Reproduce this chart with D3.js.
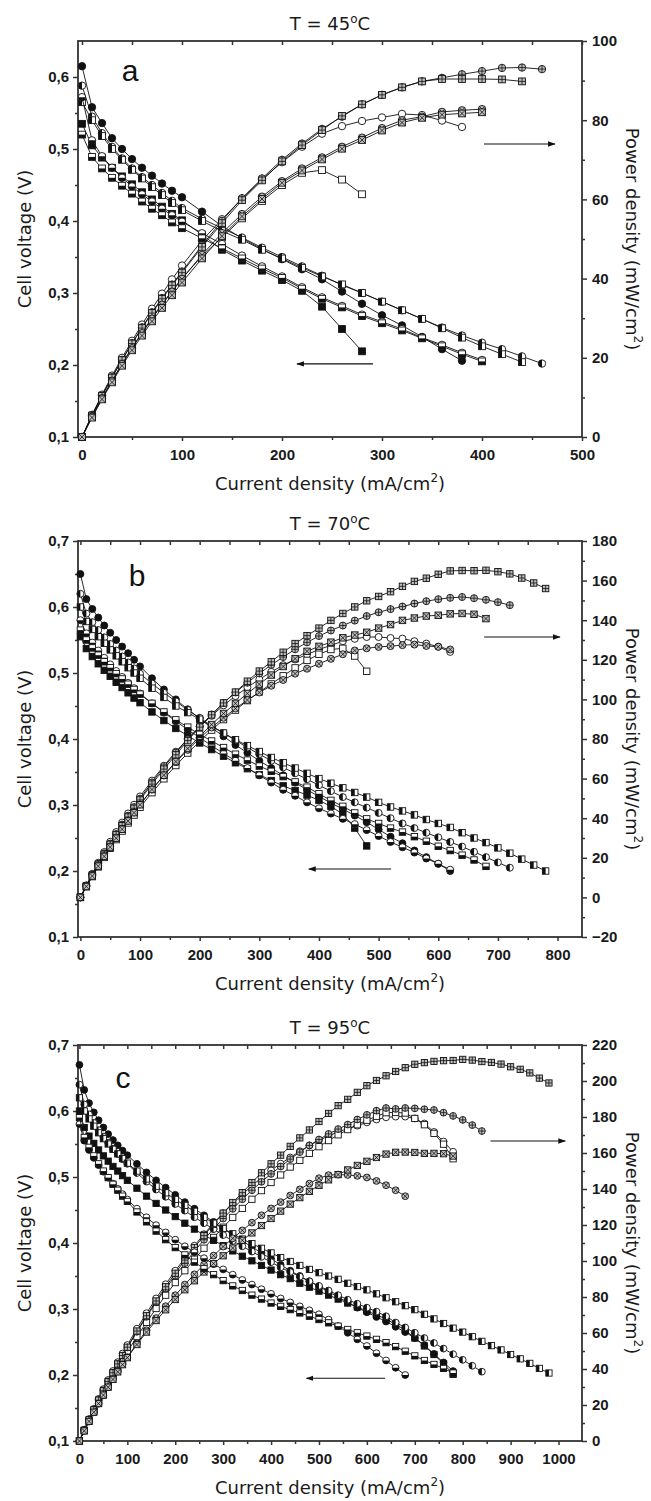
<!DOCTYPE html>
<html>
<head>
<meta charset="utf-8">
<script src="https://cdn.jsdelivr.net/npm/d3@7/dist/d3.min.js"></script>
<style>
  body { margin: 0; background: #fff; }
  svg { display: block; }
  .tick text { font-family: "Liberation Sans", Arial, sans-serif; font-weight: bold; font-size: 15px; fill: #1a1a1a; }
  .tick line { stroke: #333; stroke-width: 1.5; }
  .lab { font-family: "DejaVu Sans", Verdana, sans-serif; font-size: 18px; fill: #1a1a1a; }
  .letter { font-family: "Liberation Sans", Arial, sans-serif; font-size: 30px; fill: #111; }
</style>
</head>
<body>
<svg id="chart" width="651" height="1501"></svg>
<script>
// ---- current density grids (mA/cm2) ----
var currentA = [0,10,20,30,40,50,60,70,80,90,100,120,140,160,180,200,220,240,260,280,300,320,340,360,380,400,420,440,460];
var currentB = [0,10,20,30,40,50,60,70,80,90,100,120,140,160,180,200,220,240,260,280,300,320,340,360,380,400,420,440,460,480,500,520,540,560,580,600,620,640,660,680,700,720,740,760,780];
var currentC = [0,10,20,30,40,50,60,70,80,90,100,120,140,160,180,200,220,240,260,280,300,320,340,360,380,400,420,440,460,480,500,520,540,560,580,600,620,640,660,680,700,720,740,760,780,800,820,840,860,880,900,920,940,960,980];

// ---- T = 45 C ----
var voltA1 = [0.615,0.558,0.536,0.515,0.500,0.486,0.474,0.463,0.452,0.442,0.433,0.413,0.393,0.376,0.361,0.347,0.333,0.319,0.302,0.285,0.269,0.255,0.239,0.222,0.206];
var powerA1 = [0,5.6,10.7,15.5,20.0,24.3,28.4,32.4,36.2,39.8,43.3,49.6,55.0,60.2,65.0,69.4,73.3,76.6,78.5,79.8,80.7,81.6,81.3,79.9,78.3];
var voltA2 = [0.535,0.505,0.488,0.474,0.462,0.451,0.44,0.43,0.42,0.41,0.401,0.381,0.36,0.345,0.331,0.318,0.303,0.281,0.25,0.219];
var powerA2 = [0,5.1,9.8,14.2,18.5,22.6,26.4,30.1,33.6,36.9,40.1,45.7,50.4,55.2,59.6,63.6,66.7,67.4,65.0,61.3];
var voltA3 = [0.588,0.545,0.522,0.503,0.487,0.473,0.461,0.45,0.439,0.428,0.418,0.403,0.39,0.377,0.363,0.35,0.337,0.324,0.311,0.3,0.288,0.276,0.264,0.252,0.241,0.231,0.222,0.212,0.202];
var powerA3 = [0,5.5,10.4,15.1,19.5,23.7,27.7,31.5,35.1,38.5,41.8,48.4,54.6,60.3,65.3,70.0,74.1,77.8,80.9,84.0,86.4,88.3,89.8,90.7,91.6,92.4,93.2,93.3,92.9];
var voltA4 = [0.565,0.54,0.518,0.5,0.485,0.471,0.459,0.447,0.436,0.425,0.415,0.4,0.386,0.374,0.36,0.348,0.335,0.323,0.312,0.3,0.288,0.276,0.264,0.251,0.238,0.226,0.215,0.204];
var powerA4 = [0,5.4,10.4,15.0,19.4,23.6,27.5,31.3,34.9,38.3,41.5,48.0,54.0,59.8,64.8,69.6,73.7,77.5,81.1,84.0,86.4,88.3,89.8,90.4,90.4,90.4,90.3,89.8];
var voltA5 = [0.572,0.512,0.49,0.474,0.46,0.448,0.437,0.427,0.417,0.408,0.399,0.383,0.368,0.352,0.337,0.323,0.308,0.294,0.282,0.27,0.26,0.25,0.238,0.228,0.217,0.207];
var powerA5 = [0,5.1,9.8,14.2,18.4,22.4,26.2,29.9,33.4,36.7,39.9,46.0,51.5,56.3,60.7,64.6,67.8,70.6,73.3,75.6,78.0,80.0,80.9,82.1,82.5,82.8];
var voltA6 = [0.52,0.489,0.473,0.46,0.449,0.438,0.427,0.417,0.408,0.398,0.39,0.376,0.362,0.348,0.334,0.321,0.306,0.292,0.28,0.268,0.258,0.248,0.237,0.226,0.215,0.205];
var powerA6 = [0,4.9,9.5,13.8,18.0,21.9,25.6,29.2,32.6,35.8,39.0,45.1,50.7,55.7,60.1,64.2,67.3,70.1,72.8,75.0,77.4,79.4,80.6,81.4,81.7,82.0];

// ---- T = 70 C ----
var voltB1 = [0.65,0.612,0.597,0.584,0.572,0.561,0.55,0.54,0.53,0.52,0.51,0.492,0.475,0.46,0.445,0.431,0.417,0.404,0.391,0.379,0.367,0.356,0.345,0.334,0.323,0.313,0.303,0.294,0.284,0.274,0.263,0.252,0.242,0.231,0.221,0.211,0.2];
var powerB1 = [0,6.1,11.9,17.5,22.9,28.1,33.0,37.8,42.4,46.8,51.0,59.0,66.5,73.6,80.1,86.2,91.7,97.0,101.7,106.1,110.1,113.9,117.3,120.2,122.7,125.2,127.3,129.4,130.6,131.5,131.5,131.0,130.7,129.4,128.2,126.6,124.0];
var voltB2 = [0.555,0.537,0.525,0.514,0.504,0.495,0.486,0.478,0.47,0.462,0.455,0.441,0.428,0.416,0.405,0.394,0.384,0.374,0.364,0.355,0.346,0.337,0.329,0.322,0.315,0.307,0.298,0.286,0.265,0.238];
var powerB2 = [0,5.4,10.5,15.4,20.2,24.8,29.2,33.5,37.6,41.6,45.5,52.9,59.9,66.6,72.9,78.8,84.5,89.8,94.6,99.4,103.8,107.8,111.9,115.9,119.7,122.8,125.2,125.8,121.9,114.2];
var voltB3 = [0.62,0.59,0.577,0.565,0.554,0.544,0.534,0.525,0.516,0.507,0.499,0.484,0.47,0.457,0.444,0.432,0.42,0.409,0.398,0.387,0.377,0.367,0.357,0.348,0.339,0.33,0.321,0.312,0.304,0.296,0.288,0.28,0.272,0.265,0.258,0.251,0.244,0.237,0.229,0.221,0.213,0.205];
var powerB3 = [0,5.9,11.5,17.0,22.2,27.2,32.0,36.8,41.3,45.6,49.9,58.1,65.8,73.1,79.9,86.4,92.4,98.2,103.5,108.4,113.1,117.4,121.4,125.3,128.8,132.0,134.8,137.3,139.8,142.1,144.0,145.6,146.9,148.4,149.6,150.6,151.3,151.7,151.1,150.3,149.1,147.6];
var voltB4 = [0.6,0.578,0.566,0.555,0.545,0.535,0.526,0.517,0.508,0.5,0.492,0.477,0.463,0.45,0.44,0.43,0.419,0.409,0.399,0.39,0.381,0.372,0.364,0.356,0.348,0.34,0.333,0.326,0.319,0.312,0.304,0.297,0.291,0.285,0.278,0.272,0.266,0.258,0.25,0.243,0.235,0.227,0.218,0.209,0.2];
var powerB4 = [0,5.8,11.3,16.7,21.8,26.8,31.6,36.2,40.6,45.0,49.2,57.2,64.8,72.0,79.2,86.0,92.2,98.2,103.7,109.2,114.3,119.0,123.8,128.2,132.2,136.0,139.9,143.4,146.7,149.8,152.0,154.4,157.1,159.6,161.2,163.2,164.9,165.1,165.0,165.2,164.5,163.4,161.3,158.8,156.0];
var voltB5 = [0.58,0.56,0.546,0.534,0.523,0.513,0.503,0.494,0.485,0.477,0.469,0.454,0.44,0.427,0.414,0.402,0.39,0.378,0.367,0.356,0.345,0.334,0.323,0.314,0.304,0.295,0.287,0.279,0.271,0.262,0.253,0.244,0.236,0.228,0.219,0.211,0.202];
var powerB5 = [0,5.6,10.9,16.0,20.9,25.7,30.2,34.6,38.8,42.9,46.9,54.5,61.6,68.3,74.5,80.4,85.8,90.7,95.4,99.7,103.5,106.9,109.8,113.0,115.5,118.0,120.5,122.8,124.7,125.8,126.5,126.9,127.4,127.7,127.0,126.6,125.2];
var voltB6 = [0.565,0.55,0.538,0.527,0.517,0.508,0.499,0.491,0.483,0.475,0.468,0.454,0.441,0.429,0.418,0.407,0.397,0.387,0.377,0.368,0.359,0.351,0.343,0.335,0.327,0.317,0.307,0.298,0.288,0.279,0.272,0.265,0.259,0.252,0.245,0.2375,0.231,0.224,0.2167,0.207];
var powerB6 = [0,5.5,10.8,15.8,20.7,25.4,29.9,34.4,38.6,42.8,46.8,54.5,61.7,68.6,75.2,81.4,87.3,92.9,98.0,103.0,107.7,112.3,116.6,120.6,124.3,126.8,128.9,131.1,132.5,133.9,136.0,137.8,139.9,141.1,142.1,142.5,143.2,143.4,143.0,140.8];

// ---- T = 95 C ----
var voltC1 = [0.67,0.632,0.612,0.598,0.586,0.575,0.565,0.556,0.548,0.54,0.533,0.52,0.507,0.495,0.484,0.473,0.462,0.452,0.442,0.432,0.422,0.412,0.403,0.394,0.385,0.376,0.367,0.358,0.35,0.342,0.334,0.326,0.318,0.31,0.302,0.295,0.288,0.281,0.273,0.265,0.256,0.245,0.232,0.219,0.206];
var powerC1 = [0,6.3,12.2,17.9,23.4,28.8,33.9,38.9,43.8,48.6,53.3,62.4,71.0,79.2,87.1,94.6,101.6,108.5,114.9,121.0,126.6,131.8,137.0,141.8,146.3,150.4,154.1,157.5,161.0,164.2,167.0,169.5,171.7,173.6,175.2,177.0,178.6,179.8,180.2,180.2,179.2,176.4,171.7,166.4,160.7];
var voltC2 = [0.6,0.575,0.562,0.551,0.541,0.532,0.524,0.516,0.509,0.502,0.495,0.483,0.471,0.46,0.45,0.44,0.43,0.421,0.412,0.404,0.396,0.388,0.38,0.373,0.366,0.359,0.352,0.346,0.339,0.333,0.327,0.321,0.315,0.309,0.303,0.297,0.291,0.285,0.2765,0.268,0.256,0.244,0.231,0.217,0.201];
var powerC2 = [0,5.8,11.2,16.5,21.6,26.6,31.4,36.1,40.7,45.2,49.5,58.0,65.9,73.6,81.0,88.0,94.6,101.0,107.1,113.1,118.8,124.2,129.2,134.3,139.1,143.6,147.8,152.2,155.9,159.8,163.5,166.9,170.1,173.0,175.7,178.2,180.4,182.4,182.5,182.2,179.2,175.7,170.9,164.9,156.8];
var voltC3 = [0.64,0.61,0.595,0.582,0.571,0.561,0.552,0.543,0.535,0.527,0.52,0.506,0.493,0.481,0.47,0.459,0.449,0.439,0.43,0.421,0.412,0.403,0.395,0.387,0.379,0.371,0.363,0.356,0.349,0.342,0.335,0.328,0.321,0.314,0.308,0.302,0.296,0.289,0.2795,0.272,0.264,0.256,0.2485,0.24,0.2315,0.223,0.214,0.205];
var powerC3 = [0,6.1,11.9,17.5,22.8,28.1,33.1,38.0,42.8,47.4,52.0,60.7,69.0,77.0,84.6,91.8,98.8,105.4,111.8,117.9,123.6,129.0,134.3,139.3,144.0,148.4,152.5,156.6,160.5,164.2,167.5,170.6,173.3,175.8,178.6,181.2,183.5,185.0,184.5,185.0,184.8,184.3,183.9,182.4,180.6,178.4,175.5,172.2];
var voltC4 = [0.62,0.6,0.588,0.577,0.567,0.558,0.55,0.542,0.535,0.528,0.521,0.509,0.497,0.486,0.476,0.466,0.457,0.448,0.439,0.43,0.422,0.414,0.406,0.399,0.392,0.385,0.378,0.372,0.366,0.36,0.355,0.35,0.345,0.339,0.334,0.329,0.323,0.317,0.311,0.305,0.299,0.292,0.285,0.278,0.271,0.265,0.258,0.251,0.2445,0.238,0.231,0.2245,0.2176,0.21,0.203];
var powerC4 = [0,6.0,11.8,17.3,22.7,27.9,33.0,37.9,42.8,47.5,52.1,61.1,69.6,77.8,85.7,93.2,100.5,107.5,114.1,120.4,126.6,132.5,138.0,143.6,149.0,154.0,158.8,163.7,168.4,172.8,177.5,182.0,186.3,189.8,193.7,197.4,200.3,202.9,205.3,207.4,209.3,210.2,210.9,211.3,211.4,212.0,211.6,210.8,210.3,209.4,207.9,206.5,204.5,201.6,198.9];
var voltC5 = [0.58,0.555,0.541,0.529,0.518,0.508,0.499,0.49,0.482,0.474,0.466,0.452,0.439,0.427,0.416,0.405,0.395,0.386,0.377,0.368,0.36,0.352,0.344,0.337,0.33,0.323,0.316,0.31,0.304,0.298,0.292,0.284,0.274,0.264,0.254,0.244,0.233,0.222,0.211,0.2];
var powerC5 = [0,5.6,10.8,15.9,20.7,25.4,29.9,34.3,38.6,42.7,46.6,54.2,61.5,68.3,74.9,81.0,86.9,92.6,98.0,103.0,108.0,112.6,117.0,121.3,125.4,129.2,132.7,136.4,139.8,143.0,146.0,147.7,148.0,147.8,147.3,146.4,144.5,142.1,139.3,136.0];
var voltC6 = [0.59,0.56,0.545,0.532,0.52,0.509,0.499,0.489,0.48,0.471,0.463,0.447,0.432,0.418,0.405,0.393,0.382,0.371,0.361,0.352,0.343,0.335,0.328,0.321,0.315,0.309,0.304,0.299,0.294,0.289,0.284,0.279,0.274,0.269,0.264,0.259,0.254,0.249,0.243,0.236,0.229,0.222,0.216,0.21,0.203];
var powerC6 = [0,5.6,10.9,16.0,20.8,25.5,29.9,34.2,38.4,42.4,46.3,53.6,60.5,66.9,72.9,78.6,84.0,89.0,93.9,98.6,102.9,107.2,111.5,115.6,119.7,123.6,127.7,131.6,135.2,138.7,142.0,145.1,148.0,150.6,153.1,155.4,157.5,159.4,160.4,160.5,160.3,159.8,159.8,159.6,158.3];

// ---- tick values ----
var xTicksA = [0,100,200,300,400,500], xMinorA = [50,150,250,350,450];
var xTicksB = [0,100,200,300,400,500,600,700,800], xMinorB = [50,150,250,350,450,550,650,750];
var xTicksC = [0,100,200,300,400,500,600,700,800,900,1000], xMinorC = [50,150,250,350,450,550,650,750,850,950];
var vTicksA = [0.1,0.2,0.3,0.4,0.5,0.6], vMinorA = [0.15,0.25,0.35,0.45,0.55];
var vTicksBC = [0.1,0.2,0.3,0.4,0.5,0.6,0.7], vMinorBC = [0.15,0.25,0.35,0.45,0.55,0.65];
var pTicksA = [0,20,40,60,80,100], pMinorA = [10,30,50,70,90];
var pTicksB = [-20,0,20,40,60,80,100,120,140,160,180], pMinorB = [-10,10,30,50,70,90,110,130,150,170];
var pTicksC = [0,20,40,60,80,100,120,140,160,180,200,220], pMinorC = [10,30,50,70,90,110,130,150,170,190,210];
var titles = ["45", "70", "95"];
var letters = ["a", "b", "c"];

// symbol pairs: voltage marker / power marker for each of the six cells
var symbolPairs = [
  ["circleFilled", "circleOpen"],
  ["squareFilled", "squareOpen"],
  ["circleHalfV", "circlePlus"],
  ["squareHalfV", "squarePlus"],
  ["circleHalfH", "circleX"],
  ["squareHalfH", "squareX"]
];

var svg = d3.select("#chart");
var ink = "#111", grey = "#bdbdbd";
var L = 78, R = 582;

var defs = svg.append("defs");
defs.append("marker").attr("id", "arrow").attr("viewBox", "0 0 10 10")
  .attr("refX", 9).attr("refY", 5).attr("markerWidth", 7).attr("markerHeight", 7)
  .attr("orient", "auto")
  .append("path").attr("d", "M0,1.5 L10,5 L0,8.5 Z").attr("fill", ink);

function drawSymbol(sel, type, r) {
  var s = r * 0.92;
  if (type.indexOf("circle") === 0) {
    var fill = type === "circleFilled" ? ink : (type === "circlePlus" || type === "circleX") ? grey : "#fff";
    sel.append("circle").attr("r", r).attr("fill", fill).attr("stroke", ink).attr("stroke-width", 0.9);
    if (type === "circleHalfV")
      sel.append("path").attr("d", "M0," + (-r) + "A" + r + "," + r + " 0 0 0 0," + r + "Z").attr("fill", ink);
    if (type === "circleHalfH")
      sel.append("path").attr("d", "M" + (-r) + ",0A" + r + "," + r + " 0 0 0 " + r + ",0Z").attr("fill", ink);
    if (type === "circlePlus")
      sel.append("path").attr("d", "M" + (-r) + ",0H" + r + "M0," + (-r) + "V" + r).attr("stroke", ink).attr("stroke-width", 0.8);
    if (type === "circleX") {
      var d = r * 0.72;
      sel.append("path").attr("d", "M" + (-d) + "," + (-d) + "L" + d + "," + d + "M" + (-d) + "," + d + "L" + d + "," + (-d)).attr("stroke", ink).attr("stroke-width", 0.8);
    }
  } else {
    var fillS = type === "squareFilled" ? ink : (type === "squarePlus" || type === "squareX") ? grey : "#fff";
    sel.append("rect").attr("x", -s).attr("y", -s).attr("width", 2 * s).attr("height", 2 * s)
      .attr("fill", fillS).attr("stroke", ink).attr("stroke-width", 0.9);
    if (type === "squareHalfV")
      sel.append("rect").attr("x", -s).attr("y", -s).attr("width", s).attr("height", 2 * s).attr("fill", ink);
    if (type === "squareHalfH")
      sel.append("rect").attr("x", -s).attr("y", 0).attr("width", 2 * s).attr("height", s).attr("fill", ink);
    if (type === "squarePlus")
      sel.append("path").attr("d", "M" + (-s) + ",0H" + s + "M0," + (-s) + "V" + s).attr("stroke", ink).attr("stroke-width", 0.8);
    if (type === "squareX")
      sel.append("path").attr("d", "M" + (-s) + "," + (-s) + "L" + s + "," + s + "M" + (-s) + "," + s + "L" + s + "," + (-s)).attr("stroke", ink).attr("stroke-width", 0.8);
  }
}

var comma = function (d) { return d.toFixed(1).replace(".", ","); };

function drawPanel(p, idx) {
  var g = svg.append("g");
  var x = d3.scaleLinear().domain(p.xDom).range([L, R]);
  var yV = d3.scaleLinear().domain(p.vDom).range([p.bottom, p.top]);
  var yP = d3.scaleLinear().domain(p.pDom).range([p.bottom, p.top]);

  // axes
  g.append("g").attr("transform", "translate(0," + p.bottom + ")")
    .call(d3.axisBottom(x).tickValues(p.xTicks).tickSize(4).tickPadding(8).tickFormat(d3.format("d")));
  g.append("g").attr("transform", "translate(0," + p.bottom + ")")
    .call(d3.axisBottom(x).tickValues(p.xMinor).tickSize(3).tickFormat(""));
  g.append("g").attr("transform", "translate(0," + p.top + ")")
    .call(d3.axisTop(x).tickValues(p.xTicks.concat(p.xMinor)).tickSize(-4).tickFormat(""));
  g.append("g").attr("transform", "translate(" + L + ",0)")
    .call(d3.axisLeft(yV).tickValues(p.vTicks).tickSize(5).tickPadding(4).tickFormat(comma));
  g.append("g").attr("transform", "translate(" + L + ",0)")
    .call(d3.axisLeft(yV).tickValues(p.vMinor).tickSize(3).tickFormat(""));
  g.append("g").attr("transform", "translate(" + R + ",0)")
    .call(d3.axisRight(yP).tickValues(p.pTicks).tickSize(5).tickPadding(5).tickFormat(d3.format("d")));
  g.append("g").attr("transform", "translate(" + R + ",0)")
    .call(d3.axisRight(yP).tickValues(p.pMinor).tickSize(3).tickFormat(""));
  g.selectAll(".domain").remove();
  g.append("rect").attr("x", L).attr("y", p.top).attr("width", R - L).attr("height", p.bottom - p.top)
    .attr("fill", "none").attr("stroke", "#333").attr("stroke-width", 1.8);

  // series: power then voltage
  var lineV = d3.line().x(function (d) { return x(d[0]); }).y(function (d) { return yV(d[1]); });
  var lineP = d3.line().x(function (d) { return x(d[0]); }).y(function (d) { return yP(d[1]); });
  p.series.forEach(function (s, i) {
    [["p", lineP, yP, s.power, symbolPairs[i][1]], ["v", lineV, yV, s.volt, symbolPairs[i][0]]].forEach(function (c) {
      var pts = c[3].map(function (v, k) { return [p.current[k], v]; });
      g.append("path").datum(pts).attr("d", c[1]).attr("fill", "none").attr("stroke", ink).attr("stroke-width", 0.9);
      g.selectAll(null).data(pts).enter().append("g")
        .attr("transform", function (d) { return "translate(" + x(d[0]) + "," + c[2](d[1]) + ")"; })
        .each(function () { drawSymbol(d3.select(this), c[4], p.r); });
    });
  });

  // arrows
  g.append("line").attr("x1", x(p.arrowP[0])).attr("x2", x(p.arrowP[1]))
    .attr("y1", yP(p.arrowP[2])).attr("y2", yP(p.arrowP[2]))
    .attr("stroke", ink).attr("stroke-width", 1.1).attr("marker-end", "url(#arrow)");
  g.append("line").attr("x1", x(p.arrowV[0])).attr("x2", x(p.arrowV[1]))
    .attr("y1", yV(p.arrowV[2])).attr("y2", yV(p.arrowV[2]))
    .attr("stroke", ink).attr("stroke-width", 1.1).attr("marker-end", "url(#arrow)");

  // texts
  var cx = (L + R) / 2, cy = (p.top + p.bottom) / 2;
  var t = g.append("text").attr("class", "lab").attr("x", cx).attr("y", p.top - 11).attr("text-anchor", "middle");
  t.append("tspan").text("T = " + titles[idx]);
  t.append("tspan").attr("font-size", "12px").attr("dy", "-7").text("o");
  t.append("tspan").attr("dy", "7").text("C");

  var xl = g.append("text").attr("class", "lab").attr("x", cx).attr("y", p.bottom + 53).attr("text-anchor", "middle");
  xl.append("tspan").text("Current density (mA/cm");
  xl.append("tspan").attr("font-size", "12px").attr("dy", "-8").text("2");
  xl.append("tspan").attr("dy", "8").text(")");

  g.append("text").attr("class", "lab").attr("text-anchor", "middle")
    .attr("transform", "translate(31," + cy + ") rotate(-90)").text("Cell voltage (V)");

  var yl = g.append("text").attr("class", "lab").attr("text-anchor", "middle")
    .attr("transform", "translate(626," + cy + ") rotate(90)");
  yl.append("tspan").text("Power density (mW/cm");
  yl.append("tspan").attr("font-size", "12px").attr("dy", "-8").text("2");
  yl.append("tspan").attr("dy", "8").text(")");

  g.append("text").attr("class", "letter").attr("x", p.letterX).attr("y", p.letterY)
    .attr("text-anchor", "middle").text(letters[idx]);
}

var panels = [
  { top: 41, bottom: 437, xDom: [-4, 500], vDom: [0.1, 0.65], pDom: [0, 100], r: 3.7,
    xTicks: xTicksA, xMinor: xMinorA, vTicks: vTicksA, vMinor: vMinorA, pTicks: pTicksA, pMinor: pMinorA,
    current: currentA, letterX: 130, letterY: 81,
    arrowP: [402, 473, 74], arrowV: [291, 215, 0.2015],
    series: [
      { volt: voltA1, power: powerA1 }, { volt: voltA2, power: powerA2 }, { volt: voltA3, power: powerA3 },
      { volt: voltA4, power: powerA4 }, { volt: voltA5, power: powerA5 }, { volt: voltA6, power: powerA6 }] },
  { top: 541, bottom: 937, xDom: [-4, 841], vDom: [0.1, 0.7], pDom: [-20, 180], r: 3.5,
    xTicks: xTicksB, xMinor: xMinorB, vTicks: vTicksBC, vMinor: vMinorBC, pTicks: pTicksB, pMinor: pMinorB,
    current: currentB, letterX: 137, letterY: 586,
    arrowP: [677, 804, 131.5], arrowV: [521, 383, 0.203],
    series: [
      { volt: voltB1, power: powerB1 }, { volt: voltB2, power: powerB2 }, { volt: voltB3, power: powerB3 },
      { volt: voltB4, power: powerB4 }, { volt: voltB5, power: powerB5 }, { volt: voltB6, power: powerB6 }] },
  { top: 1045, bottom: 1441, xDom: [-3, 1049], vDom: [0.1, 0.7], pDom: [0, 220], r: 3.4,
    xTicks: xTicksC, xMinor: xMinorC, vTicks: vTicksBC, vMinor: vMinorBC, pTicks: pTicksC, pMinor: pMinorC,
    current: currentC, letterX: 123, letterY: 1088,
    arrowP: [858, 1014, 166.7], arrowV: [638, 474, 0.195],
    series: [
      { volt: voltC1, power: powerC1 }, { volt: voltC2, power: powerC2 }, { volt: voltC3, power: powerC3 },
      { volt: voltC4, power: powerC4 }, { volt: voltC5, power: powerC5 }, { volt: voltC6, power: powerC6 }] }
];

panels.forEach(drawPanel);
</script>
</body>
</html>
